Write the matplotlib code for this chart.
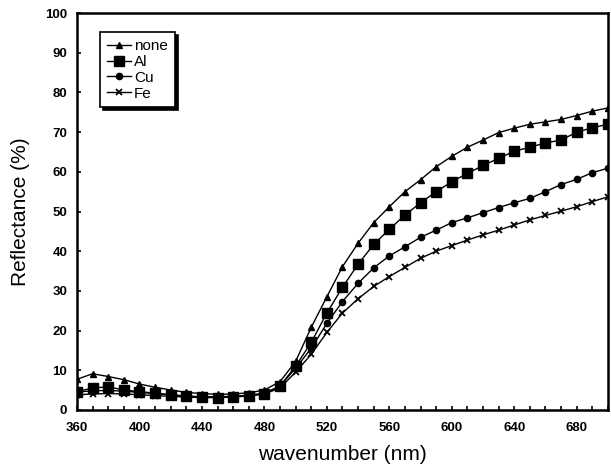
import numpy as np
import matplotlib
matplotlib.use("Agg")
import matplotlib.pyplot as plt
from matplotlib.ticker import MultipleLocator

plt.rcParams["font.family"] = ["Liberation Sans", "DejaVu Sans"]

wl = np.arange(360, 701, 10)

none = [7.7, 9.1, 8.4, 7.6, 6.5, 5.7, 5.0, 4.4, 4.1, 3.9, 4.0, 4.3, 5.0, 7.1, 12.2, 20.8,
        28.5, 36.1, 42.0, 47.2, 51.2, 55.0, 58.0, 61.3, 63.9, 66.2, 68.0, 69.9, 71.0, 72.0,
        72.6, 73.2, 74.2, 75.3, 76.1]
al = [4.6, 5.5, 5.8, 5.0, 4.6, 4.2, 3.8, 3.4, 3.2, 3.1, 3.3, 3.6, 4.0, 6.0, 11.0, 17.0,
      24.4, 30.9, 36.7, 41.7, 45.5, 49.1, 52.2, 55.0, 57.5, 59.6, 61.6, 63.4, 65.2, 66.2,
      67.3, 68.0, 70.0, 71.1, 72.0]
cu = [4.5, 4.8, 4.9, 4.7, 4.4, 4.1, 3.8, 3.5, 3.3, 3.3, 3.4, 3.7, 4.2, 6.0, 10.5, 15.5,
      21.8, 27.3, 31.9, 35.8, 38.8, 41.1, 43.5, 45.3, 47.2, 48.4, 49.7, 51.0, 52.2, 53.3,
      55.0, 56.8, 58.1, 59.8, 60.9]
fe = [3.8, 4.0, 4.1, 4.0, 3.8, 3.6, 3.4, 3.2, 3.1, 3.1, 3.2, 3.5, 4.0, 5.5, 9.5, 14.0,
      19.5, 24.4, 28.0, 31.1, 33.6, 35.9, 38.2, 40.0, 41.4, 42.8, 44.1, 45.3, 46.6, 47.9,
      49.0, 50.1, 51.2, 52.5, 53.7]

fig = plt.figure(figsize=(6.11, 4.70), dpi=100)
ax = fig.add_axes([0.126, 0.128, 0.869, 0.844])

ax.plot(wl, none, "k-^", lw=1, ms=4.5, label="none")
ax.plot(wl, al, "k-s", lw=1, ms=7, label="Al")
ax.plot(wl, cu, "k-o", lw=1, ms=4.5, label="Cu")
ax.plot(wl, fe, "k-x", lw=1, ms=4.5, mew=1.3, label="Fe")

ax.set_xlim(360, 700)
ax.set_ylim(0, 100)
ax.xaxis.set_major_locator(MultipleLocator(40))
ax.xaxis.set_minor_locator(MultipleLocator(10))
ax.yaxis.set_major_locator(MultipleLocator(10))
ax.tick_params(which="both", direction="in", length=3, width=1.2)
ax.tick_params(axis="x", pad=9)
ax.tick_params(axis="y", pad=7)
for lab in ax.get_xticklabels() + ax.get_yticklabels():
    lab.set_fontweight("bold")
    lab.set_fontsize(9.5)
for s in ax.spines.values():
    s.set_linewidth(1.8)

ax.set_xlabel("wavenumber (nm)", fontsize=15, labelpad=8)
ax.set_ylabel("Reflectance (%)", fontsize=15, labelpad=11)

leg = ax.legend(loc="upper left", bbox_to_anchor=(0.043, 0.952), borderaxespad=0,
                fontsize=11, handlelength=1.6, handletextpad=0.2, labelspacing=0.12,
                borderpad=0.45, fancybox=False,
                shadow={"color": "black", "alpha": 1},
                edgecolor="black", framealpha=1)
leg.get_frame().set_linewidth(1.2)

fig.savefig("out.png", dpi=100)
